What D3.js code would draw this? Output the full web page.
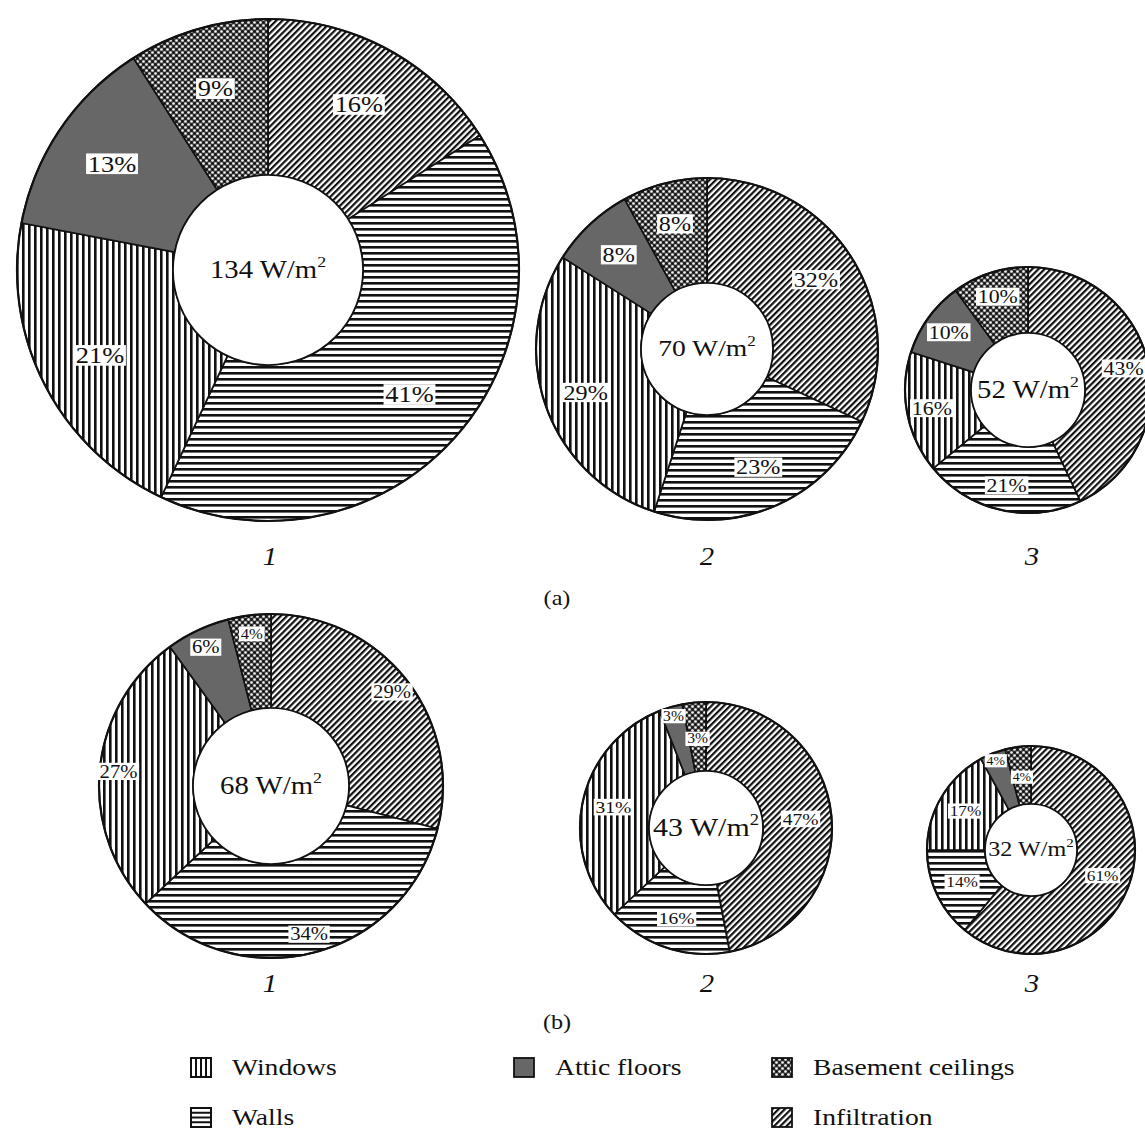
<!DOCTYPE html>
<html><head><meta charset="utf-8">
<script src="https://cdn.jsdelivr.net/npm/d3@7"></script>
<style>
body{margin:0;background:#fff}
svg{display:block}
text{font-family:"Liberation Serif","Times New Roman",serif;fill:#111}
</style>
</head><body>
<svg id="chart" width="1145" height="1141"></svg>
<script>
// ---------------- data ----------------
const categories = ["Infiltration", "Walls", "Windows", "Attic floors", "Basement ceilings"];
const chartNumbers = ["1", "2", "3", "1", "2", "3"];
const totals = [134, 70, 52, 68, 43, 32];
const valuesA1 = [16, 41, 21, 13, 9];
const valuesA2 = [32, 23, 29, 8, 8];
const valuesA3 = [43, 21, 16, 10, 10];
const valuesB1 = [29, 34, 27, 6, 4];
const valuesB2 = [47, 16, 31, 3, 3];
const valuesB3 = [61, 14, 17, 4, 4];
const allValues = [valuesA1, valuesA2, valuesA3, valuesB1, valuesB2, valuesB3];
const panelLabels = ["(a)", "(b)"];
const legendItems = ["Windows", "Attic floors", "Basement ceilings", "Walls", "Infiltration"];

// ---------------- layout ----------------
const layout = [
  {cx: 268, cy: 270, R: 251, r: 95, lf: 0.60, fs: 23, cfs: 25},
  {cx: 707, cy: 349, R: 171, r: 66, lf: 0.60, fs: 21, cfs: 24},
  {cx: 1028, cy: 390, R: 123, r: 57, lf: 0.62, fs: 19, cfs: 25},
  {cx: 271, cy: 786, R: 172, r: 78, lf: 0.80, fs: 18, cfs: 25},
  {cx: 706, cy: 828, R: 126, r: 57, lf: 0.55, fs: 17, cfs: 26},
  {cx: 1031, cy: 850, R: 104, r: 46, lf: 0.52, fs: 15, cfs: 21}
];
const numberRowY = [556, 983];
const numberX = [270, 707, 1032];
const panelPos = [{x: 557, y: 598}, {x: 557, y: 1022}];
const SX = 1.15; // horizontal stretch of the lettering
const ATTIC = "#676767";

const svg = d3.select("#chart");
const defs = svg.append("defs");

// patterns
function mkPattern(id, w, h, tf) {
  const p = defs.append("pattern").attr("id", id)
    .attr("patternUnits", "userSpaceOnUse").attr("width", w).attr("height", h);
  if (tf) p.attr("patternTransform", tf);
  p.append("rect").attr("width", w).attr("height", h).attr("fill", "#fff");
  return p;
}
let p = mkPattern("pWin", 6, 6);
p.append("rect").attr("x", 0).attr("y", 0).attr("width", 2.6).attr("height", 6).attr("fill", "#111");
p = mkPattern("pWal", 6, 6);
p.append("rect").attr("x", 0).attr("y", 0).attr("width", 6).attr("height", 2.6).attr("fill", "#111");
p = mkPattern("pInf", 4.4, 4.4, "rotate(45)");
p.append("rect").attr("x", 0).attr("y", 0).attr("width", 2.2).attr("height", 4.4).attr("fill", "#111");
p = mkPattern("pBas", 6, 6);
p.select("rect").attr("fill", "#3e3e3e");
[[1.5, 1.5], [4.5, 4.5]].forEach(([x, y]) => p.append("circle").attr("cx", x).attr("cy", y).attr("r", 1.3).attr("fill", "#f4f4f4"));
[[4.5, 1.5], [1.5, 4.5]].forEach(([x, y]) => p.append("circle").attr("cx", x).attr("cy", y).attr("r", 1.2).attr("fill", "#111"));

const fillScale = d3.scaleOrdinal()
  .domain(categories)
  .range(["url(#pInf)", "url(#pWal)", "url(#pWin)", ATTIC, "url(#pBas)"]);

// stretched text helper
function sText(parent, x, y, str, size, opts = {}) {
  const g = parent.append("g").attr("transform", `translate(${x},${y}) scale(${SX},1)`);
  const t = g.append("text").attr("x", 0).attr("y", 0)
    .attr("text-anchor", opts.anchor || "middle")
    .attr("font-size", size);
  if (opts.italic) t.attr("font-style", "italic");
  t.text(str);
  return {g, t};
}

const pie = d3.pie().sort(null).value(d => d);

allValues.forEach((vals, i) => {
  const L = layout[i];
  const g = svg.append("g").attr("transform", `translate(${L.cx},${L.cy})`);
  const arcs = pie(vals);
  const arc = d3.arc().innerRadius(L.r).outerRadius(L.R);
  g.selectAll("path.slice").data(arcs).join("path")
    .attr("class", "slice")
    .attr("d", arc)
    .attr("fill", (d, k) => fillScale(categories[k]))
    .attr("stroke", "#111").attr("stroke-width", 1.7).attr("stroke-linejoin", "round");
  // outer and inner outlines
  g.append("circle").attr("r", L.R).attr("fill", "none").attr("stroke", "#111").attr("stroke-width", 2.2);
  g.append("circle").attr("r", L.r).attr("fill", "#fff").attr("stroke", "#111").attr("stroke-width", 1.7);

  // percentage labels
  arcs.forEach((a, k) => {
    let f = L.lf;
    let size = L.fs;
    if (a.data < 5) {
      size = L.fs * 0.8;
      if (k === 3) f = 0.86;
      if (k === 4 && vals[3] < 5) f = 0.47;
    }
    const mid = (a.startAngle + a.endAngle) / 2;
    const rr = L.r + f * (L.R - L.r);
    const x = rr * Math.sin(mid), y = -rr * Math.cos(mid);
    const {g: lg, t} = sText(g, x, y + size * 0.33, a.data + "%", size);
    const bb = t.node().getBBox();
    lg.insert("rect", "text")
      .attr("x", bb.x - 1.5).attr("y", -size * 0.68 - 2.5)
      .attr("width", bb.width + 3).attr("height", size * 0.68 + 5)
      .attr("fill", "#fff");
  });

  // centre total
  const cg = g.append("g").attr("transform", `translate(0,${L.cfs * 0.3}) scale(${SX},1)`);
  const ct = cg.append("text").attr("text-anchor", "middle").attr("font-size", L.cfs);
  ct.append("tspan").text(totals[i] + " W/m");
  ct.append("tspan").attr("dy", -L.cfs * 0.42).attr("font-size", L.cfs * 0.62).text("2");

  // chart number
  const row = i < 3 ? 0 : 1;
  sText(svg, numberX[i % 3], numberRowY[row] + 9, chartNumbers[i], 25, {italic: true});
});

panelLabels.forEach((s, i) => sText(svg, panelPos[i].x, panelPos[i].y + 7, s, 21));

// legend
const legendPos = [
  {x: 191, y: 1058}, {x: 514, y: 1058}, {x: 772, y: 1058},
  {x: 191, y: 1108}, {x: 772, y: 1108}
];
const IW = 20, IH = 19;
legendItems.forEach((name, i) => {
  const pos = legendPos[i];
  const lg = svg.append("g").attr("transform", `translate(${pos.x},${pos.y})`);
  if (name === "Windows") {
    lg.append("rect").attr("width", IW).attr("height", IH).attr("fill", "#fff").attr("stroke", "#111").attr("stroke-width", 2);
    [1, 2, 3].forEach(j => lg.append("line").attr("x1", IW * j / 4).attr("x2", IW * j / 4).attr("y1", 0).attr("y2", IH).attr("stroke", "#111").attr("stroke-width", 2));
  } else if (name === "Walls") {
    lg.append("rect").attr("width", IW).attr("height", IH).attr("fill", "#fff").attr("stroke", "#111").attr("stroke-width", 2);
    [1, 2, 3].forEach(j => lg.append("line").attr("y1", IH * j / 4).attr("y2", IH * j / 4).attr("x1", 0).attr("x2", IW).attr("stroke", "#111").attr("stroke-width", 2));
  } else {
    lg.append("rect").attr("width", IW).attr("height", IH)
      .attr("fill", fillScale(name)).attr("stroke", "#111").attr("stroke-width", 1.8);
  }
  sText(lg, IW + 21, IH - 2, name, 24, {anchor: "start"});
});
</script>
</body></html>
